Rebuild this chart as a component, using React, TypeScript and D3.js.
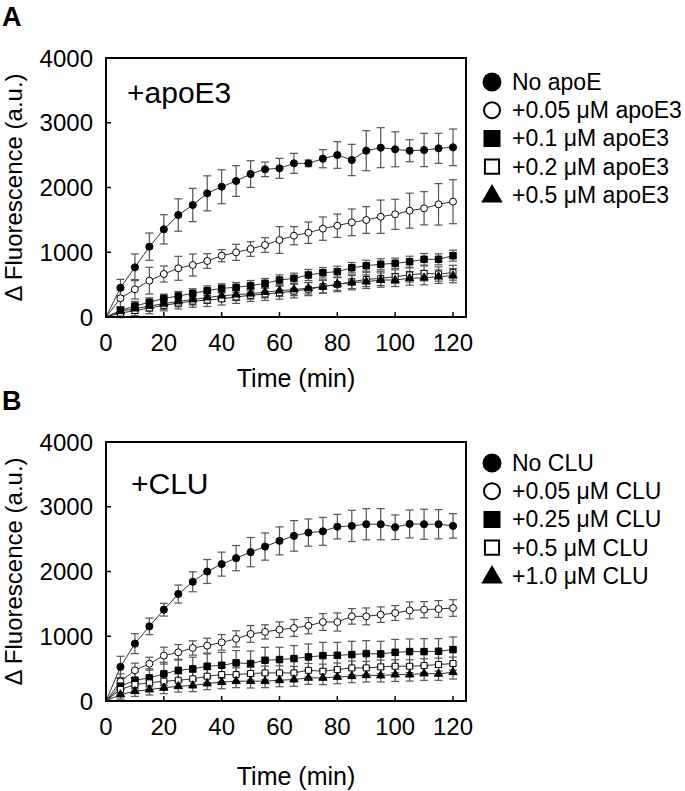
import React from "react";
import * as d3 from "d3";

// time points (min)
const times = [0, 5, 10, 15, 20, 25, 30, 35, 40, 45, 50, 55, 60, 65, 70, 75, 80, 85, 90, 95, 100, 105, 110, 115, 120];
const xTicks = [0, 20, 40, 60, 80, 100, 120];
const yTicks = [0, 1000, 2000, 3000, 4000];

// panel A: apoE3
const apoeLabels = ["No apoE", "+0.05 μM apoE3", "+0.1 μM apoE3", "+0.2 μM apoE3", "+0.5 μM apoE3"];
const apoeNone = [0, 452, 767, 1086, 1354, 1575, 1730, 1910, 2012, 2100, 2208, 2281, 2296, 2373, 2373, 2445, 2502, 2425, 2568, 2615, 2590, 2568, 2579, 2605, 2620];
const apoeNoneErr = [0, 129, 206, 211, 226, 250, 257, 270, 262, 237, 206, 113, 154, 154, 51, 140, 206, 242, 309, 309, 270, 170, 257, 232, 283];
const apoe005 = [0, 289, 428, 561, 664, 752, 803, 865, 947, 999, 1050, 1112, 1189, 1256, 1302, 1365, 1410, 1462, 1498, 1549, 1586, 1642, 1679, 1740, 1781];
const apoe005Err = [0, 129, 150, 206, 124, 185, 170, 113, 93, 124, 113, 113, 206, 140, 165, 180, 180, 206, 206, 257, 232, 270, 257, 320, 340];
const apoe01 = [0, 100, 170, 227, 288, 324, 366, 406, 443, 458, 484, 520, 571, 597, 649, 684, 700, 761, 792, 814, 829, 854, 891, 891, 947];
const apoe01Err = [0, 60, 70, 70, 65, 70, 70, 75, 70, 75, 80, 75, 80, 80, 85, 80, 85, 80, 85, 85, 80, 85, 90, 85, 85];
const apoe02 = [0, 60, 100, 140, 180, 215, 245, 262, 280, 310, 335, 355, 375, 400, 430, 470, 500, 545, 580, 597, 623, 649, 674, 664, 684];
const apoe02Err = [0, 70, 80, 90, 85, 90, 95, 100, 95, 100, 95, 100, 100, 105, 100, 105, 110, 105, 110, 110, 105, 110, 115, 110, 115];
const apoe05 = [0, 90, 130, 170, 205, 240, 270, 300, 329, 345, 360, 385, 406, 425, 445, 468, 510, 530, 545, 571, 571, 597, 607, 623, 638];
const apoe05Err = [0, 60, 70, 80, 85, 80, 85, 90, 85, 90, 85, 90, 90, 95, 90, 95, 100, 110, 105, 110, 100, 105, 110, 105, 110];

// panel B: CLU
const cluLabels = ["No CLU", "+0.05 μM CLU", "+0.25 μM CLU", "+0.5 μM CLU", "+1.0 μM CLU"];
const cluNone = [0, 527, 886, 1153, 1410, 1652, 1841, 2000, 2114, 2206, 2299, 2385, 2473, 2550, 2601, 2620, 2693, 2704, 2730, 2730, 2684, 2735, 2730, 2730, 2704];
const cluNoneErr = [0, 164, 154, 128, 98, 139, 154, 185, 185, 195, 226, 210, 216, 236, 210, 216, 190, 241, 241, 241, 190, 216, 231, 226, 190];
const clu005 = [0, 300, 474, 576, 701, 752, 819, 855, 906, 959, 1036, 1067, 1102, 1128, 1163, 1220, 1220, 1307, 1307, 1333, 1359, 1399, 1410, 1421, 1436];
const clu005Err = [0, 120, 110, 100, 130, 120, 110, 115, 120, 125, 130, 110, 120, 130, 125, 130, 140, 120, 130, 120, 115, 130, 125, 130, 128];
const clu025 = [0, 228, 320, 357, 419, 474, 496, 537, 552, 589, 578, 629, 640, 655, 681, 701, 706, 717, 732, 727, 752, 763, 763, 768, 794];
const clu025Err = [0, 120, 130, 140, 180, 170, 180, 190, 200, 190, 195, 200, 190, 200, 200, 205, 200, 205, 200, 195, 200, 195, 200, 195, 195];
const clu05 = [0, 177, 254, 280, 306, 320, 342, 383, 408, 408, 424, 434, 434, 434, 474, 459, 486, 511, 511, 527, 537, 537, 547, 563, 578];
const clu05Err = [0, 90, 100, 100, 110, 100, 105, 100, 110, 105, 100, 105, 110, 100, 105, 110, 100, 105, 100, 105, 100, 100, 105, 100, 100];
const clu10 = [0, 100, 151, 177, 203, 228, 239, 270, 290, 306, 306, 306, 320, 331, 357, 357, 372, 383, 398, 393, 408, 408, 424, 419, 444];
const clu10Err = [0, 70, 80, 85, 90, 90, 95, 95, 100, 100, 105, 100, 100, 105, 100, 105, 105, 100, 105, 100, 105, 100, 105, 100, 105];

const font = "'Liberation Sans', Arial, Helvetica, sans-serif";

type Mark = { type: d3.SymbolType; filled: boolean; size: number; legendSize: number };
const marks: Mark[] = [
  { type: d3.symbolCircle, filled: true, size: 40, legendSize: 227 },
  { type: d3.symbolCircle, filled: false, size: 38, legendSize: 200 },
  { type: d3.symbolSquare, filled: true, size: 42, legendSize: 225 },
  { type: d3.symbolSquare, filled: false, size: 36, legendSize: 200 },
  { type: d3.symbolTriangle, filled: true, size: 30, legendSize: 140 },
];

const left = 106;
const right = 466;
const h = 259;

const Panel = ({ top, letter, inset, insetX, insetY, labels, values, errors, legendY, titleY }) => {
  const x = d3.scaleLinear().domain([0, 120]).range([left, 453]);
  const y = d3.scaleLinear().domain([0, 4000]).range([top + h, top]);
  const line = d3.line<number>().x((d, i) => x(times[i])).y((d) => y(d));

  return (
    <g fontFamily={font}>
      <text x={2} y={top - 32} fontSize={27} fontWeight="bold">{letter}</text>
      {/* series */}
      {values.map((vals, s) => (
        <g key={s}>
          {vals.map((v, i) =>
            i === 0 ? null : (
              <g key={i} stroke="#555" strokeWidth={1.2}>
                <line x1={x(times[i])} x2={x(times[i])} y1={y(v - errors[s][i])} y2={y(v + errors[s][i])} />
                <line x1={x(times[i]) - 4} x2={x(times[i]) + 4} y1={y(v + errors[s][i])} y2={y(v + errors[s][i])} />
                <line x1={x(times[i]) - 4} x2={x(times[i]) + 4} y1={y(v - errors[s][i])} y2={y(v - errors[s][i])} />
              </g>
            )
          )}
          <path d={line(vals) || ""} fill="none" stroke="#333" strokeWidth={1} />
        </g>
      ))}
      {values.map((vals, s) => (
        <g key={s}>
          {vals.map((v, i) =>
            i === 0 ? null : (
              <path
                key={i}
                transform={`translate(${x(times[i])},${y(v)})`}
                d={d3.symbol().type(marks[s].type).size(marks[s].size)() || ""}
                fill={marks[s].filled ? "#000" : "#fff"}
                stroke="#000"
                strokeWidth={1}
              />
            )
          )}
        </g>
      ))}
      {/* frame */}
      <rect x={left} y={top} width={right - left} height={h} fill="none" stroke="#000" strokeWidth={2} />
      {xTicks.map((t) => (
        <g key={t}>
          <line x1={x(t)} x2={x(t)} y1={top + h} y2={top + h - 5} stroke="#000" strokeWidth={1.5} />
          <text x={x(t)} y={top + h + 34} fontSize={24} textAnchor="middle">{t}</text>
        </g>
      ))}
      {yTicks.map((t) => (
        <g key={t}>
          <line x1={left} x2={left + 5} y1={y(t)} y2={y(t)} stroke="#000" strokeWidth={1.5} />
          <text x={93} y={y(t)} fontSize={24} textAnchor="end" dominantBaseline="central">{t}</text>
        </g>
      ))}
      <text x={296} y={titleY} fontSize={25} textAnchor="middle">Time (min)</text>
      <text
        transform={`translate(22,${top + h / 2}) rotate(-90)`}
        fontSize={24}
        textAnchor="middle"
      >
        Δ Fluorescence (a.u.)
      </text>
      <text x={insetX} y={insetY} fontSize={30} dominantBaseline="central">{inset}</text>
      {/* legend */}
      {labels.map((lab, s) => (
        <g key={lab} transform={`translate(0,${legendY + s * 28.2})`}>
          <path
            transform={`translate(492,${s === 4 ? 1.5 : 0})`}
            d={d3.symbol().type(marks[s].type).size(marks[s].legendSize)() || ""}
            fill={marks[s].filled ? "#000" : "#fff"}
            stroke="#000"
            strokeWidth={2}
          />
          <text x={512} y={0} fontSize={23} dominantBaseline="central">{lab}</text>
        </g>
      ))}
    </g>
  );
};

export default function App() {
  return (
    <svg
      width={685}
      height={791}
      style={{ position: "absolute", left: 0, top: 0, background: "#fff" }}
    >
      <Panel
        top={58}
        letter="A"
        inset="+apoE3"
        insetX={127}
        insetY={92}
        labels={apoeLabels}
        values={[apoeNone, apoe005, apoe01, apoe02, apoe05]}
        errors={[apoeNoneErr, apoe005Err, apoe01Err, apoe02Err, apoe05Err]}
        legendY={82}
        titleY={387}
      />
      <Panel
        top={442}
        letter="B"
        inset="+CLU"
        insetX={131}
        insetY={483}
        labels={cluLabels}
        values={[cluNone, clu005, clu025, clu05, clu10]}
        errors={[cluNoneErr, clu005Err, clu025Err, clu05Err, clu10Err]}
        legendY={463}
        titleY={785}
      />
    </svg>
  );
}
